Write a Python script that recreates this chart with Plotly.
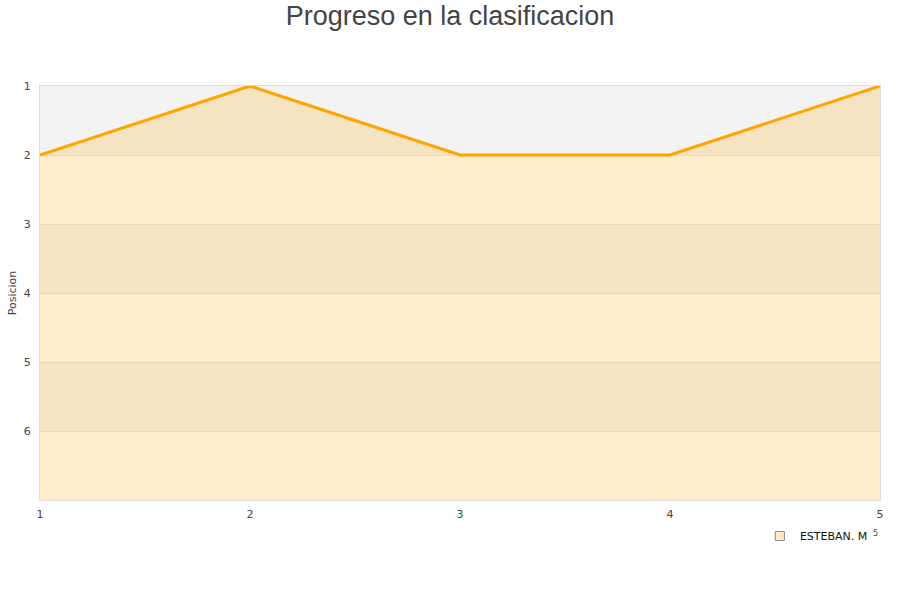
import plotly.graph_objects as go

rounds = [1, 2, 3, 4, 5]
positions = [2, 1, 2, 2, 1]
player = "ESTEBAN. M"
y_ticks = [1, 2, 3, 4, 5, 6]
y_bottom = 7

fig = go.Figure()

# baseline for fill (bottom of reversed axis)
fig.add_trace(go.Scatter(x=rounds, y=[y_bottom] * len(rounds), mode="lines",
                         line=dict(width=0, color="rgba(0,0,0,0)"),
                         showlegend=False, hoverinfo="skip"))
fig.add_trace(go.Scatter(x=rounds, y=positions, mode="lines", fill="tonexty",
                         fillcolor="rgba(255,165,0,0.2)",
                         line=dict(color="#ffa500", width=3),
                         showlegend=False, name=player))
# legend entry
fig.add_trace(go.Scatter(x=[None], y=[None], mode="markers", name=player,
                         marker=dict(symbol="square", size=9, color="#ffecc9",
                                     line=dict(color="#888888", width=1))))

shapes = []
for lo in [1, 3, 5]:
    shapes.append(dict(type="rect", xref="paper", yref="y", x0=0, x1=1,
                       y0=lo, y1=lo + 1, fillcolor="#f3f3f3", line=dict(width=0),
                       layer="below"))

fig.update_layout(
    width=900, height=600,
    paper_bgcolor="white", plot_bgcolor="white",
    margin=dict(l=40, r=20, t=86, b=100),
    title=dict(text="Progreso en la clasificacion", x=0.5, xanchor="center",
               y=0.974, yanchor="middle",
               font=dict(family="Liberation Sans, Arial, sans-serif", size=27, color="#444444")),
    font=dict(family="DejaVu Sans, Verdana, sans-serif", size=11, color="#444444"),
    shapes=shapes,
    showlegend=True,
    legend=dict(orientation="h", x=0.857, xanchor="left", y=-0.087, yanchor="middle",
                font=dict(size=11, color="#111111"), bgcolor="rgba(0,0,0,0)",
                itemwidth=30),
    xaxis=dict(range=[1, 5], tickvals=rounds, showgrid=False, zeroline=False,
               showline=True, linecolor="#dddddd", mirror=True, automargin=False,
               ticks="outside", ticklen=4, tickcolor="rgba(0,0,0,0)",
               tickfont=dict(size=11, color="#444444")),
    yaxis=dict(range=[y_bottom, 1], tickvals=y_ticks, showgrid=True,
               gridcolor="#e6e6e6", zeroline=False, showline=True,
               linecolor="#dddddd", mirror=True, automargin=False,
               ticks="outside", ticklen=6, tickcolor="rgba(0,0,0,0)",
               title=dict(text="Posicion", font=dict(size=11, color="#444444"), standoff=4),
               tickfont=dict(size=11, color="#444444")),
)
fig.add_annotation(x=1.0, y=-0.097, xref="paper", yref="paper", text="5",
                   showarrow=False, font=dict(size=8, color="#444444"))

fig.write_html("out.html", config={"displayModeBar": False},
               post_script="document.body.style.margin='0px';")
